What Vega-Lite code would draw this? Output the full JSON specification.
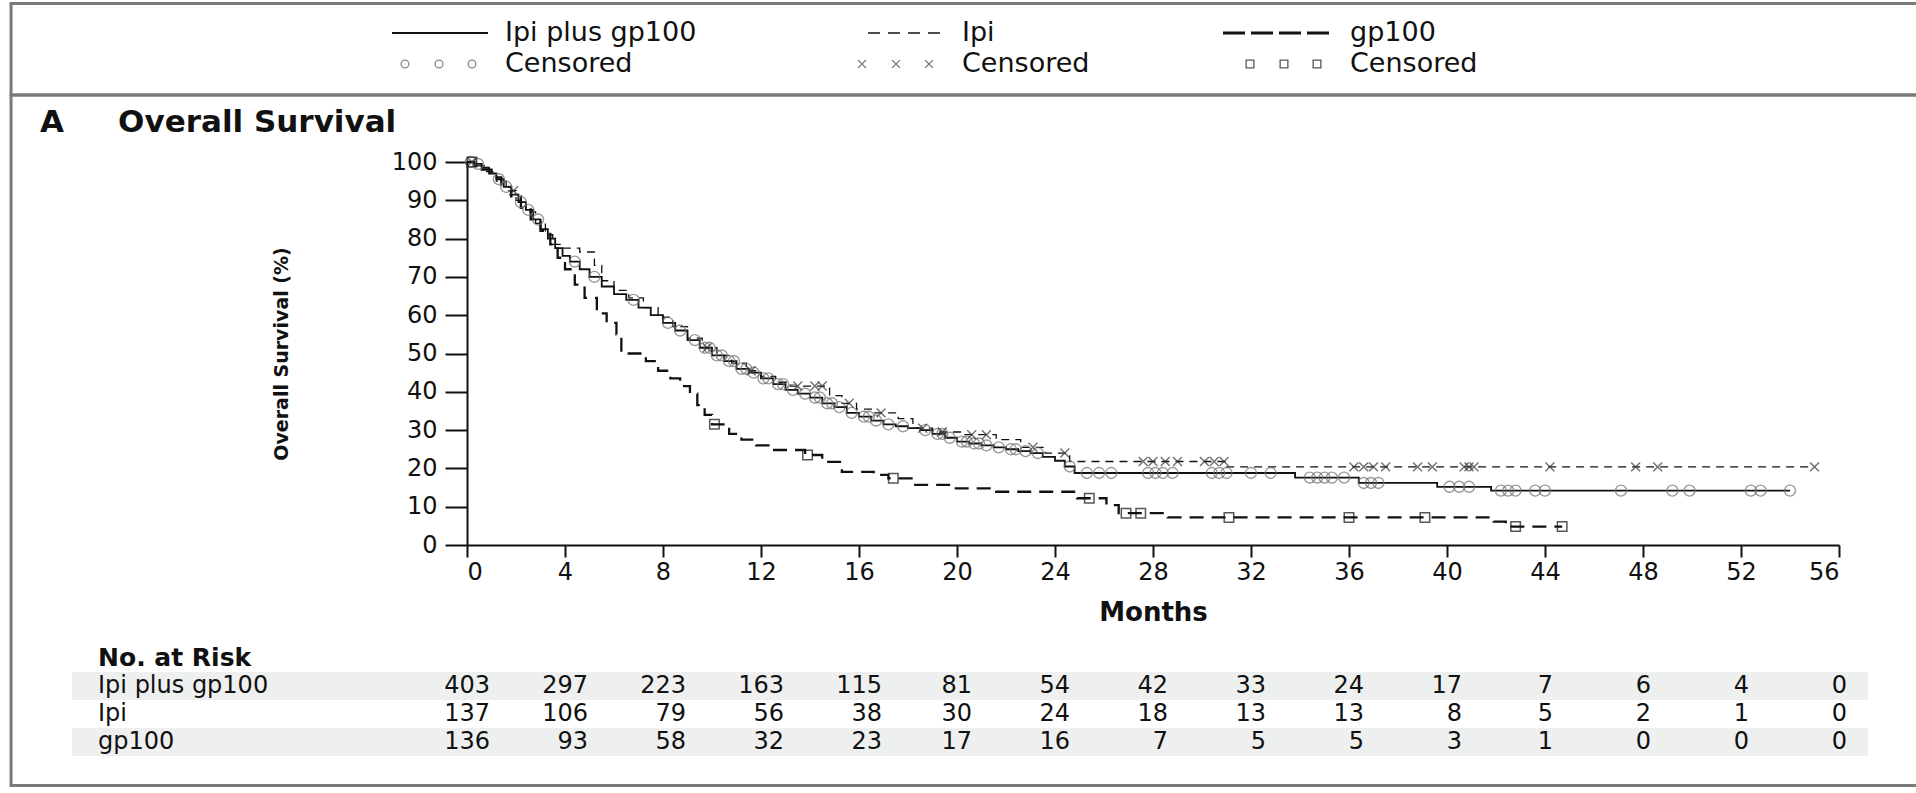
{
"$schema": "https://vega.github.io/schema/vega-lite/v6.json",
"width": 1916, "height": 789, "padding": 0,
"autosize": {"type": "none"},
"background": "#ffffff",
"config": {"view": {"stroke": null}, "font": "DejaVu Sans"},
"datasets": {
"curves": [
{"group":"Ipi plus gp100","month":0,"surv":100},{"group":"Ipi plus gp100","month":0.3,"surv":99.5},{"group":"Ipi plus gp100","month":0.6,"surv":98.5},{"group":"Ipi plus gp100","month":0.9,"surv":97},{"group":"Ipi plus gp100","month":1.2,"surv":95.5},{"group":"Ipi plus gp100","month":1.5,"surv":93.5},{"group":"Ipi plus gp100","month":1.8,"surv":91.5},{"group":"Ipi plus gp100","month":2.1,"surv":89.5},{"group":"Ipi plus gp100","month":2.4,"surv":87.5},{"group":"Ipi plus gp100","month":2.7,"surv":85},{"group":"Ipi plus gp100","month":3.0,"surv":82.5},{"group":"Ipi plus gp100","month":3.3,"surv":80},{"group":"Ipi plus gp100","month":3.6,"surv":77.5},{"group":"Ipi plus gp100","month":3.9,"surv":75.5},{"group":"Ipi plus gp100","month":4.2,"surv":74},{"group":"Ipi plus gp100","month":4.6,"surv":72},{"group":"Ipi plus gp100","month":5.0,"surv":70},{"group":"Ipi plus gp100","month":5.5,"surv":67.5},{"group":"Ipi plus gp100","month":6.0,"surv":65.5},{"group":"Ipi plus gp100","month":6.5,"surv":64},{"group":"Ipi plus gp100","month":7.0,"surv":62},{"group":"Ipi plus gp100","month":7.5,"surv":60},{"group":"Ipi plus gp100","month":8.0,"surv":58},{"group":"Ipi plus gp100","month":8.5,"surv":56},{"group":"Ipi plus gp100","month":9.0,"surv":53.5},{"group":"Ipi plus gp100","month":9.5,"surv":51.5},{"group":"Ipi plus gp100","month":10.0,"surv":49.5},{"group":"Ipi plus gp100","month":10.5,"surv":48},{"group":"Ipi plus gp100","month":11.0,"surv":46},{"group":"Ipi plus gp100","month":11.5,"surv":45},{"group":"Ipi plus gp100","month":12.0,"surv":43.5},{"group":"Ipi plus gp100","month":12.5,"surv":42},{"group":"Ipi plus gp100","month":13.0,"surv":40.5},{"group":"Ipi plus gp100","month":13.5,"surv":39.5},{"group":"Ipi plus gp100","month":14.0,"surv":38.5},{"group":"Ipi plus gp100","month":14.5,"surv":37},{"group":"Ipi plus gp100","month":15.0,"surv":36},{"group":"Ipi plus gp100","month":15.5,"surv":34.5},{"group":"Ipi plus gp100","month":16.0,"surv":33.5},{"group":"Ipi plus gp100","month":16.5,"surv":32.5},{"group":"Ipi plus gp100","month":17.0,"surv":31.5},{"group":"Ipi plus gp100","month":17.5,"surv":31},{"group":"Ipi plus gp100","month":18.0,"surv":30.5},{"group":"Ipi plus gp100","month":18.5,"surv":30},{"group":"Ipi plus gp100","month":19.0,"surv":29},{"group":"Ipi plus gp100","month":19.5,"surv":28},{"group":"Ipi plus gp100","month":20.0,"surv":27},{"group":"Ipi plus gp100","month":20.5,"surv":26.5},{"group":"Ipi plus gp100","month":21.0,"surv":26},{"group":"Ipi plus gp100","month":21.5,"surv":25.5},{"group":"Ipi plus gp100","month":22.0,"surv":25},{"group":"Ipi plus gp100","month":22.5,"surv":24.5},{"group":"Ipi plus gp100","month":23.0,"surv":24},{"group":"Ipi plus gp100","month":23.5,"surv":23},{"group":"Ipi plus gp100","month":24.0,"surv":22},{"group":"Ipi plus gp100","month":24.4,"surv":20.5},{"group":"Ipi plus gp100","month":24.8,"surv":18.8},{"group":"Ipi plus gp100","month":33.8,"surv":17.6},{"group":"Ipi plus gp100","month":36.4,"surv":16.2},{"group":"Ipi plus gp100","month":39.6,"surv":15.2},{"group":"Ipi plus gp100","month":41.8,"surv":14.2},{"group":"Ipi plus gp100","month":54.0,"surv":14.2},
{"group":"Ipi","month":0,"surv":100},{"group":"Ipi","month":0.4,"surv":99},{"group":"Ipi","month":0.8,"surv":97.5},{"group":"Ipi","month":1.2,"surv":95},{"group":"Ipi","month":1.6,"surv":92.5},{"group":"Ipi","month":2.0,"surv":90},{"group":"Ipi","month":2.4,"surv":87},{"group":"Ipi","month":2.8,"surv":84},{"group":"Ipi","month":3.2,"surv":81},{"group":"Ipi","month":3.5,"surv":78.5},{"group":"Ipi","month":3.8,"surv":77.5},{"group":"Ipi","month":4.6,"surv":76.5},{"group":"Ipi","month":5.2,"surv":73},{"group":"Ipi","month":5.5,"surv":69},{"group":"Ipi","month":6.0,"surv":66.5},{"group":"Ipi","month":6.6,"surv":64.5},{"group":"Ipi","month":7.2,"surv":62},{"group":"Ipi","month":7.8,"surv":59.5},{"group":"Ipi","month":8.4,"surv":57},{"group":"Ipi","month":9.0,"surv":54},{"group":"Ipi","month":9.6,"surv":51.5},{"group":"Ipi","month":10.2,"surv":49.5},{"group":"Ipi","month":10.8,"surv":47.5},{"group":"Ipi","month":11.4,"surv":45.5},{"group":"Ipi","month":12.0,"surv":44},{"group":"Ipi","month":12.6,"surv":42.5},{"group":"Ipi","month":13.2,"surv":41.5},{"group":"Ipi","month":14.8,"surv":39},{"group":"Ipi","month":15.3,"surv":37},{"group":"Ipi","month":15.9,"surv":35.5},{"group":"Ipi","month":16.6,"surv":34.5},{"group":"Ipi","month":17.6,"surv":33},{"group":"Ipi","month":18.2,"surv":30.5},{"group":"Ipi","month":19.0,"surv":29.5},{"group":"Ipi","month":20.2,"surv":28.8},{"group":"Ipi","month":21.6,"surv":27.5},{"group":"Ipi","month":22.6,"surv":25.5},{"group":"Ipi","month":23.6,"surv":24},{"group":"Ipi","month":24.6,"surv":21.8},{"group":"Ipi","month":31.0,"surv":20.4},{"group":"Ipi","month":55.0,"surv":20.4},
{"group":"gp100","month":0,"surv":100},{"group":"gp100","month":0.3,"surv":99},{"group":"gp100","month":0.6,"surv":98},{"group":"gp100","month":1.0,"surv":96},{"group":"gp100","month":1.4,"surv":93.5},{"group":"gp100","month":1.8,"surv":91},{"group":"gp100","month":2.2,"surv":88},{"group":"gp100","month":2.6,"surv":85},{"group":"gp100","month":3.0,"surv":82},{"group":"gp100","month":3.4,"surv":78.5},{"group":"gp100","month":3.7,"surv":75},{"group":"gp100","month":4.0,"surv":72},{"group":"gp100","month":4.4,"surv":68},{"group":"gp100","month":4.8,"surv":64.5},{"group":"gp100","month":5.3,"surv":60.5},{"group":"gp100","month":5.7,"surv":58},{"group":"gp100","month":6.1,"surv":55},{"group":"gp100","month":6.3,"surv":50},{"group":"gp100","month":7.3,"surv":48},{"group":"gp100","month":7.8,"surv":45.5},{"group":"gp100","month":8.3,"surv":43.5},{"group":"gp100","month":8.7,"surv":41.5},{"group":"gp100","month":9.1,"surv":39.5},{"group":"gp100","month":9.4,"surv":36.5},{"group":"gp100","month":9.7,"surv":34},{"group":"gp100","month":10.0,"surv":31.5},{"group":"gp100","month":10.7,"surv":29},{"group":"gp100","month":11.2,"surv":27.5},{"group":"gp100","month":11.8,"surv":26},{"group":"gp100","month":12.4,"surv":24.8},{"group":"gp100","month":13.8,"surv":23.5},{"group":"gp100","month":14.5,"surv":21.7},{"group":"gp100","month":15.3,"surv":19.1},{"group":"gp100","month":16.6,"surv":18.3},{"group":"gp100","month":17.2,"surv":17.4},{"group":"gp100","month":18.2,"surv":15.7},{"group":"gp100","month":19.8,"surv":14.8},{"group":"gp100","month":21.6,"surv":13.9},{"group":"gp100","month":24.9,"surv":12.2},{"group":"gp100","month":26.1,"surv":10.4},{"group":"gp100","month":26.6,"surv":8.3},{"group":"gp100","month":28.6,"surv":7.2},{"group":"gp100","month":41.9,"surv":6.1},{"group":"gp100","month":42.4,"surv":4.8},{"group":"gp100","month":44.7,"surv":4.8}
],
"censored": [
{"group":"Ipi plus gp100","month":0.15,"surv":100},{"group":"Ipi plus gp100","month":0.45,"surv":99.5},{"group":"Ipi plus gp100","month":1.3,"surv":95.5},{"group":"Ipi plus gp100","month":1.6,"surv":93.5},{"group":"Ipi plus gp100","month":2.2,"surv":89.5},{"group":"Ipi plus gp100","month":2.5,"surv":87.5},{"group":"Ipi plus gp100","month":2.9,"surv":85},{"group":"Ipi plus gp100","month":4.4,"surv":74},{"group":"Ipi plus gp100","month":5.2,"surv":70},{"group":"Ipi plus gp100","month":6.8,"surv":64},{"group":"Ipi plus gp100","month":8.2,"surv":58},{"group":"Ipi plus gp100","month":8.7,"surv":56},{"group":"Ipi plus gp100","month":9.3,"surv":53.5},{"group":"Ipi plus gp100","month":9.7,"surv":51.5},{"group":"Ipi plus gp100","month":9.9,"surv":51.5},{"group":"Ipi plus gp100","month":10.2,"surv":49.5},{"group":"Ipi plus gp100","month":10.4,"surv":49.5},{"group":"Ipi plus gp100","month":10.7,"surv":48},{"group":"Ipi plus gp100","month":10.9,"surv":48},{"group":"Ipi plus gp100","month":11.2,"surv":46},{"group":"Ipi plus gp100","month":11.4,"surv":46},{"group":"Ipi plus gp100","month":11.7,"surv":45},{"group":"Ipi plus gp100","month":12.1,"surv":43.5},{"group":"Ipi plus gp100","month":12.3,"surv":43.5},{"group":"Ipi plus gp100","month":12.7,"surv":42},{"group":"Ipi plus gp100","month":12.9,"surv":42},{"group":"Ipi plus gp100","month":13.3,"surv":40.5},{"group":"Ipi plus gp100","month":13.8,"surv":39.5},{"group":"Ipi plus gp100","month":14.2,"surv":38.5},{"group":"Ipi plus gp100","month":14.4,"surv":38.5},{"group":"Ipi plus gp100","month":14.7,"surv":37},{"group":"Ipi plus gp100","month":14.9,"surv":37},{"group":"Ipi plus gp100","month":15.2,"surv":36},{"group":"Ipi plus gp100","month":15.7,"surv":34.5},{"group":"Ipi plus gp100","month":16.2,"surv":33.5},{"group":"Ipi plus gp100","month":16.4,"surv":33.5},{"group":"Ipi plus gp100","month":16.7,"surv":32.5},{"group":"Ipi plus gp100","month":17.2,"surv":31.5},{"group":"Ipi plus gp100","month":17.8,"surv":31},{"group":"Ipi plus gp100","month":18.7,"surv":30},{"group":"Ipi plus gp100","month":19.2,"surv":29},{"group":"Ipi plus gp100","month":19.4,"surv":29},{"group":"Ipi plus gp100","month":19.7,"surv":28},{"group":"Ipi plus gp100","month":20.2,"surv":27},{"group":"Ipi plus gp100","month":20.4,"surv":27},{"group":"Ipi plus gp100","month":20.7,"surv":26.5},{"group":"Ipi plus gp100","month":20.9,"surv":26.5},{"group":"Ipi plus gp100","month":21.2,"surv":26},{"group":"Ipi plus gp100","month":21.7,"surv":25.5},{"group":"Ipi plus gp100","month":22.2,"surv":25},{"group":"Ipi plus gp100","month":22.4,"surv":25},{"group":"Ipi plus gp100","month":22.8,"surv":24.5},{"group":"Ipi plus gp100","month":23.3,"surv":24},{"group":"Ipi plus gp100","month":24.6,"surv":20.5},{"group":"Ipi plus gp100","month":25.3,"surv":18.8},{"group":"Ipi plus gp100","month":25.8,"surv":18.8},{"group":"Ipi plus gp100","month":26.3,"surv":18.8},{"group":"Ipi plus gp100","month":27.8,"surv":18.8},{"group":"Ipi plus gp100","month":28.1,"surv":18.8},{"group":"Ipi plus gp100","month":28.4,"surv":18.8},{"group":"Ipi plus gp100","month":28.8,"surv":18.8},{"group":"Ipi plus gp100","month":30.4,"surv":18.8},{"group":"Ipi plus gp100","month":30.7,"surv":18.8},{"group":"Ipi plus gp100","month":31.0,"surv":18.8},{"group":"Ipi plus gp100","month":32.0,"surv":18.8},{"group":"Ipi plus gp100","month":32.8,"surv":18.8},{"group":"Ipi plus gp100","month":34.4,"surv":17.6},{"group":"Ipi plus gp100","month":34.7,"surv":17.6},{"group":"Ipi plus gp100","month":35.0,"surv":17.6},{"group":"Ipi plus gp100","month":35.3,"surv":17.6},{"group":"Ipi plus gp100","month":35.8,"surv":17.6},{"group":"Ipi plus gp100","month":36.6,"surv":16.2},{"group":"Ipi plus gp100","month":36.9,"surv":16.2},{"group":"Ipi plus gp100","month":37.2,"surv":16.2},{"group":"Ipi plus gp100","month":40.1,"surv":15.2},{"group":"Ipi plus gp100","month":40.5,"surv":15.2},{"group":"Ipi plus gp100","month":40.9,"surv":15.2},{"group":"Ipi plus gp100","month":42.2,"surv":14.2},{"group":"Ipi plus gp100","month":42.5,"surv":14.2},{"group":"Ipi plus gp100","month":42.8,"surv":14.2},{"group":"Ipi plus gp100","month":43.6,"surv":14.2},{"group":"Ipi plus gp100","month":44.0,"surv":14.2},{"group":"Ipi plus gp100","month":47.1,"surv":14.2},{"group":"Ipi plus gp100","month":49.2,"surv":14.2},{"group":"Ipi plus gp100","month":49.9,"surv":14.2},{"group":"Ipi plus gp100","month":52.4,"surv":14.2},{"group":"Ipi plus gp100","month":52.8,"surv":14.2},{"group":"Ipi plus gp100","month":54.0,"surv":14.2},
{"group":"Ipi","month":0.2,"surv":100},{"group":"Ipi","month":1.9,"surv":92.5},{"group":"Ipi","month":9.8,"surv":51.5},{"group":"Ipi","month":11.6,"surv":45.5},{"group":"Ipi","month":13.5,"surv":41.5},{"group":"Ipi","month":14.2,"surv":41.5},{"group":"Ipi","month":14.5,"surv":41.5},{"group":"Ipi","month":15.6,"surv":37},{"group":"Ipi","month":16.9,"surv":34.5},{"group":"Ipi","month":18.6,"surv":30.5},{"group":"Ipi","month":19.4,"surv":29.5},{"group":"Ipi","month":20.6,"surv":28.8},{"group":"Ipi","month":21.2,"surv":28.8},{"group":"Ipi","month":23.1,"surv":25.5},{"group":"Ipi","month":24.4,"surv":24},{"group":"Ipi","month":27.6,"surv":21.8},{"group":"Ipi","month":28.0,"surv":21.8},{"group":"Ipi","month":28.5,"surv":21.8},{"group":"Ipi","month":29.0,"surv":21.8},{"group":"Ipi","month":30.1,"surv":21.8},{"group":"Ipi","month":30.5,"surv":21.8},{"group":"Ipi","month":30.9,"surv":21.8},{"group":"Ipi","month":36.2,"surv":20.4},{"group":"Ipi","month":36.6,"surv":20.4},{"group":"Ipi","month":37.0,"surv":20.4},{"group":"Ipi","month":37.5,"surv":20.4},{"group":"Ipi","month":38.8,"surv":20.4},{"group":"Ipi","month":39.4,"surv":20.4},{"group":"Ipi","month":40.7,"surv":20.4},{"group":"Ipi","month":40.9,"surv":20.4},{"group":"Ipi","month":41.1,"surv":20.4},{"group":"Ipi","month":44.2,"surv":20.4},{"group":"Ipi","month":47.7,"surv":20.4},{"group":"Ipi","month":48.6,"surv":20.4},{"group":"Ipi","month":55.0,"surv":20.4},
{"group":"gp100","month":0.2,"surv":100},{"group":"gp100","month":10.1,"surv":31.5},{"group":"gp100","month":13.9,"surv":23.5},{"group":"gp100","month":17.4,"surv":17.4},{"group":"gp100","month":25.4,"surv":12.2},{"group":"gp100","month":26.9,"surv":8.3},{"group":"gp100","month":27.5,"surv":8.3},{"group":"gp100","month":31.1,"surv":7.2},{"group":"gp100","month":36.0,"surv":7.2},{"group":"gp100","month":39.1,"surv":7.2},{"group":"gp100","month":42.8,"surv":4.8},{"group":"gp100","month":44.7,"surv":4.8}
],
"risk": [
{"group":"Ipi plus gp100","month":0,"n":403},{"group":"Ipi plus gp100","month":4,"n":297},{"group":"Ipi plus gp100","month":8,"n":223},{"group":"Ipi plus gp100","month":12,"n":163},{"group":"Ipi plus gp100","month":16,"n":115},{"group":"Ipi plus gp100","month":20,"n":81},{"group":"Ipi plus gp100","month":24,"n":54},{"group":"Ipi plus gp100","month":28,"n":42},{"group":"Ipi plus gp100","month":32,"n":33},{"group":"Ipi plus gp100","month":36,"n":24},{"group":"Ipi plus gp100","month":40,"n":17},{"group":"Ipi plus gp100","month":44,"n":7},{"group":"Ipi plus gp100","month":48,"n":6},{"group":"Ipi plus gp100","month":52,"n":4},{"group":"Ipi plus gp100","month":56,"n":0},
{"group":"Ipi","month":0,"n":137},{"group":"Ipi","month":4,"n":106},{"group":"Ipi","month":8,"n":79},{"group":"Ipi","month":12,"n":56},{"group":"Ipi","month":16,"n":38},{"group":"Ipi","month":20,"n":30},{"group":"Ipi","month":24,"n":24},{"group":"Ipi","month":28,"n":18},{"group":"Ipi","month":32,"n":13},{"group":"Ipi","month":36,"n":13},{"group":"Ipi","month":40,"n":8},{"group":"Ipi","month":44,"n":5},{"group":"Ipi","month":48,"n":2},{"group":"Ipi","month":52,"n":1},{"group":"Ipi","month":56,"n":0},
{"group":"gp100","month":0,"n":136},{"group":"gp100","month":4,"n":93},{"group":"gp100","month":8,"n":58},{"group":"gp100","month":12,"n":32},{"group":"gp100","month":16,"n":23},{"group":"gp100","month":20,"n":17},{"group":"gp100","month":24,"n":16},{"group":"gp100","month":28,"n":7},{"group":"gp100","month":32,"n":5},{"group":"gp100","month":36,"n":5},{"group":"gp100","month":40,"n":3},{"group":"gp100","month":44,"n":1},{"group":"gp100","month":48,"n":0},{"group":"gp100","month":52,"n":0},{"group":"gp100","month":56,"n":0}
],
"legend": [
{"order":1,"row":"line","group":"Ipi plus gp100","label":"Ipi plus gp100"},
{"order":2,"row":"line","group":"Ipi","label":"Ipi"},
{"order":3,"row":"line","group":"gp100","label":"gp100"},
{"order":1,"row":"censored","group":"Ipi plus gp100","label":"Censored"},
{"order":2,"row":"censored","group":"Ipi","label":"Censored"},
{"order":3,"row":"censored","group":"gp100","label":"Censored"}
]
},
"resolve": {"scale": {"x": "independent", "y": "independent"}},
"layer": [
{
"layer": [
{"data": {"values": [{"box": "legend"}]}, "mark": {"type": "rect", "fill": null, "stroke": "#7a7a7a", "strokeWidth": 3},
 "encoding": {
  "x": {"datum": -18.61, "type": "quantitative", "scale": {"domain": [0, 56], "range": [467, 1839], "nice": false, "zero": false},
   "axis": {"orient": "bottom", "offset": -244, "values": [0,4,8,12,16,20,24,28,32,36,40,44,48,52,56], "grid": false,
    "domainColor": "#111111", "domainWidth": 2, "tickColor": "#111111", "tickWidth": 2, "tickSize": 12,
    "labelFont": "DejaVu Sans", "labelFontSize": 24, "labelColor": "#111111", "labelPadding": 3,
    "title": "Months", "titleFont": "DejaVu Sans", "titleFontSize": 26, "titleFontWeight": "bold", "titleColor": "#111111", "titlePadding": 15}},
  "x2": {"datum": 59.25},
  "y": {"datum": 141.4, "type": "quantitative", "scale": {"domain": [0, 100], "range": [545, 162], "nice": false, "zero": false},
   "axis": {"orient": "left", "offset": -467, "values": [0,10,20,30,40,50,60,70,80,90,100], "grid": false,
    "domainColor": "#111111", "domainWidth": 2, "tickColor": "#111111", "tickWidth": 2, "tickSize": 22,
    "labelFont": "DejaVu Sans", "labelFontSize": 24, "labelColor": "#111111", "labelPadding": 8,
    "title": "Overall Survival (%)", "titleFont": "DejaVu Sans", "titleFontSize": 19, "titleFontWeight": "bold", "titleColor": "#111111", "titlePadding": 100}},
  "y2": {"datum": 117.49}}},
{"data": {"values": [{"box": "figure"}]}, "mark": {"type": "rect", "fill": null, "stroke": "#7a7a7a", "strokeWidth": 3},
 "encoding": {"x": {"datum": -18.61, "type": "quantitative"}, "x2": {"datum": 59.25}, "y": {"datum": 117.49, "type": "quantitative"}, "y2": {"datum": -62.8}}},
{"data": {"values": [{"label": "A"}]}, "mark": {"type": "text", "align": "left", "baseline": "alphabetic", "font": "DejaVu Sans", "fontWeight": "bold", "fontSize": 31, "color": "#111111"},
 "encoding": {"x": {"datum": -17.43, "type": "quantitative"}, "y": {"datum": 107.83, "type": "quantitative"}, "text": {"field": "label"}}},
{"data": {"values": [{"label": "Overall Survival"}]}, "mark": {"type": "text", "align": "left", "baseline": "alphabetic", "font": "DejaVu Sans", "fontWeight": "bold", "fontSize": 31, "color": "#111111"},
 "encoding": {"x": {"datum": -14.24, "type": "quantitative"}, "y": {"datum": 107.83, "type": "quantitative"}, "text": {"field": "label"}}},
{"data": {"name": "curves"}, "transform": [{"filter": "datum.group === 'gp100'"}],
 "mark": {"type": "line", "interpolate": "step-after", "color": "#111111", "strokeWidth": 2.3, "strokeDash": [14, 8]},
 "encoding": {"x": {"field": "month", "type": "quantitative"}, "y": {"field": "surv", "type": "quantitative"}}},
{"data": {"name": "curves"}, "transform": [{"filter": "datum.group === 'Ipi'"}],
 "mark": {"type": "line", "interpolate": "step-after", "color": "#111111", "strokeWidth": 1.3, "strokeDash": [8, 6]},
 "encoding": {"x": {"field": "month", "type": "quantitative"}, "y": {"field": "surv", "type": "quantitative"}}},
{"data": {"name": "curves"}, "transform": [{"filter": "datum.group === 'Ipi plus gp100'"}],
 "mark": {"type": "line", "interpolate": "step-after", "color": "#111111", "strokeWidth": 1.8},
 "encoding": {"x": {"field": "month", "type": "quantitative"}, "y": {"field": "surv", "type": "quantitative"}}},
{"data": {"name": "censored"}, "transform": [{"filter": "datum.group === 'Ipi plus gp100'"}],
 "mark": {"type": "point", "shape": "circle", "filled": false, "size": 120, "stroke": "#707070", "strokeWidth": 1.4},
 "encoding": {"x": {"field": "month", "type": "quantitative"}, "y": {"field": "surv", "type": "quantitative"}}},
{"data": {"name": "censored"}, "transform": [{"filter": "datum.group === 'Ipi'"}],
 "mark": {"type": "point", "shape": "M-1,-1L1,1M-1,1L1,-1", "filled": false, "size": 80, "stroke": "#333333", "strokeWidth": 1.4},
 "encoding": {"x": {"field": "month", "type": "quantitative"}, "y": {"field": "surv", "type": "quantitative"}}},
{"data": {"name": "censored"}, "transform": [{"filter": "datum.group === 'gp100'"}],
 "mark": {"type": "point", "shape": "square", "filled": false, "size": 90, "stroke": "#111111", "strokeWidth": 1.5},
 "encoding": {"x": {"field": "month", "type": "quantitative"}, "y": {"field": "surv", "type": "quantitative"}}}
]
},
{
"layer": [
{"data": {"name": "risk"}, "transform": [{"filter": "datum.month === 0 && datum.group !== 'Ipi'"}],
 "mark": {"type": "rect", "fill": "#eef0ef"},
 "encoding": {"x": {"datum": -16.12, "type": "quantitative", "scale": {"domain": [0, 56], "range": [467, 1839], "nice": false, "zero": false}, "axis": null}, "x2": {"datum": 57.18},
  "y": {"field": "group", "type": "nominal", "scale": {"type": "band", "domain": ["No. at Risk", "Ipi plus gp100", "Ipi", "gp100"], "range": [644, 756], "paddingInner": 0, "paddingOuter": 0}, "axis": null}}},
{"data": {"name": "risk"}, "transform": [{"filter": "datum.month === 0"}],
 "mark": {"type": "text", "align": "left", "baseline": "middle", "font": "DejaVu Sans", "fontSize": 24, "color": "#111111"},
 "encoding": {"x": {"datum": -15.06, "type": "quantitative", "axis": null}, "y": {"field": "group", "type": "nominal", "axis": null}, "text": {"field": "group"}}},
{"data": {"values": [{"group": "No. at Risk"}]},
 "mark": {"type": "text", "align": "left", "baseline": "middle", "font": "DejaVu Sans", "fontWeight": "bold", "fontSize": 25, "color": "#111111"},
 "encoding": {"x": {"datum": -15.06, "type": "quantitative", "axis": null}, "y": {"field": "group", "type": "nominal", "axis": null}, "text": {"field": "group"}}},
{"data": {"name": "risk"}, "transform": [{"filter": "datum.month <= 16"}],
 "mark": {"type": "text", "align": "right", "baseline": "middle", "dx": 23, "font": "DejaVu Sans", "fontSize": 24, "color": "#111111"},
 "encoding": {"x": {"field": "month", "type": "quantitative", "axis": null}, "y": {"field": "group", "type": "nominal", "axis": null}, "text": {"field": "n", "type": "nominal"}}},
{"data": {"name": "risk"}, "transform": [{"filter": "datum.month >= 20 && datum.month <= 40"}],
 "mark": {"type": "text", "align": "right", "baseline": "middle", "dx": 15, "font": "DejaVu Sans", "fontSize": 24, "color": "#111111"},
 "encoding": {"x": {"field": "month", "type": "quantitative", "axis": null}, "y": {"field": "group", "type": "nominal", "axis": null}, "text": {"field": "n", "type": "nominal"}}},
{"data": {"name": "risk"}, "transform": [{"filter": "datum.month >= 44"}],
 "mark": {"type": "text", "align": "right", "baseline": "middle", "dx": 8, "font": "DejaVu Sans", "fontSize": 24, "color": "#111111"},
 "encoding": {"x": {"field": "month", "type": "quantitative", "axis": null}, "y": {"field": "group", "type": "nominal", "axis": null}, "text": {"field": "n", "type": "nominal"}}}
]
},
{
"layer": [
{"data": {"name": "legend"},
 "mark": {"type": "text", "align": "left", "baseline": "middle", "font": "DejaVu Sans", "fontSize": 27, "color": "#111111"},
 "encoding": {"x": {"field": "order", "type": "quantitative", "scale": {"domain": [1, 2, 3], "range": [505, 962, 1350], "nice": false, "zero": false}, "axis": null},
  "y": {"field": "row", "type": "nominal", "scale": {"type": "point", "domain": ["line", "censored"], "range": [33, 64], "padding": 0}, "axis": null},
  "text": {"field": "label"}}},
{"data": {"name": "legend"}, "transform": [{"filter": "datum.row === 'line' && datum.group === 'Ipi plus gp100'"}],
 "mark": {"type": "rule", "color": "#111111", "strokeWidth": 1.8, "xOffset": -113, "x2Offset": -17},
 "encoding": {"x": {"field": "order", "type": "quantitative", "axis": null}, "x2": {"field": "order"}, "y": {"field": "row", "type": "nominal", "axis": null}}},
{"data": {"name": "legend"}, "transform": [{"filter": "datum.row === 'line' && datum.group === 'Ipi'"}],
 "mark": {"type": "rule", "color": "#111111", "strokeWidth": 1.5, "strokeDash": [12, 8], "xOffset": -94, "x2Offset": -19},
 "encoding": {"x": {"field": "order", "type": "quantitative", "axis": null}, "x2": {"field": "order"}, "y": {"field": "row", "type": "nominal", "axis": null}}},
{"data": {"name": "legend"}, "transform": [{"filter": "datum.row === 'line' && datum.group === 'gp100'"}],
 "mark": {"type": "rule", "color": "#111111", "strokeWidth": 3.2, "strokeDash": [22, 6], "xOffset": -127, "x2Offset": -20},
 "encoding": {"x": {"field": "order", "type": "quantitative", "axis": null}, "x2": {"field": "order"}, "y": {"field": "row", "type": "nominal", "axis": null}}},
{"data": {"name": "legend"}, "transform": [{"filter": "datum.row === 'censored'"}],
 "mark": {"type": "point", "filled": false, "size": 60, "strokeWidth": 1.3, "xOffset": -100},
 "encoding": {"x": {"field": "order", "type": "quantitative", "axis": null}, "y": {"field": "row", "type": "nominal", "axis": null},
  "shape": {"field": "group", "type": "nominal", "scale": {"domain": ["Ipi plus gp100", "Ipi", "gp100"], "range": ["circle", "M-1,-1L1,1M-1,1L1,-1", "square"]}, "legend": null},
  "stroke": {"field": "group", "type": "nominal", "scale": {"domain": ["Ipi plus gp100", "Ipi", "gp100"], "range": ["#555555", "#333333", "#111111"]}, "legend": null}}},
{"data": {"name": "legend"}, "transform": [{"filter": "datum.row === 'censored'"}],
 "mark": {"type": "point", "filled": false, "size": 60, "strokeWidth": 1.3, "xOffset": -66},
 "encoding": {"x": {"field": "order", "type": "quantitative", "axis": null}, "y": {"field": "row", "type": "nominal", "axis": null},
  "shape": {"field": "group", "type": "nominal", "legend": null}, "stroke": {"field": "group", "type": "nominal", "legend": null}}},
{"data": {"name": "legend"}, "transform": [{"filter": "datum.row === 'censored'"}],
 "mark": {"type": "point", "filled": false, "size": 60, "strokeWidth": 1.3, "xOffset": -33},
 "encoding": {"x": {"field": "order", "type": "quantitative", "axis": null}, "y": {"field": "row", "type": "nominal", "axis": null},
  "shape": {"field": "group", "type": "nominal", "legend": null}, "stroke": {"field": "group", "type": "nominal", "legend": null}}}
]
}
]
}
